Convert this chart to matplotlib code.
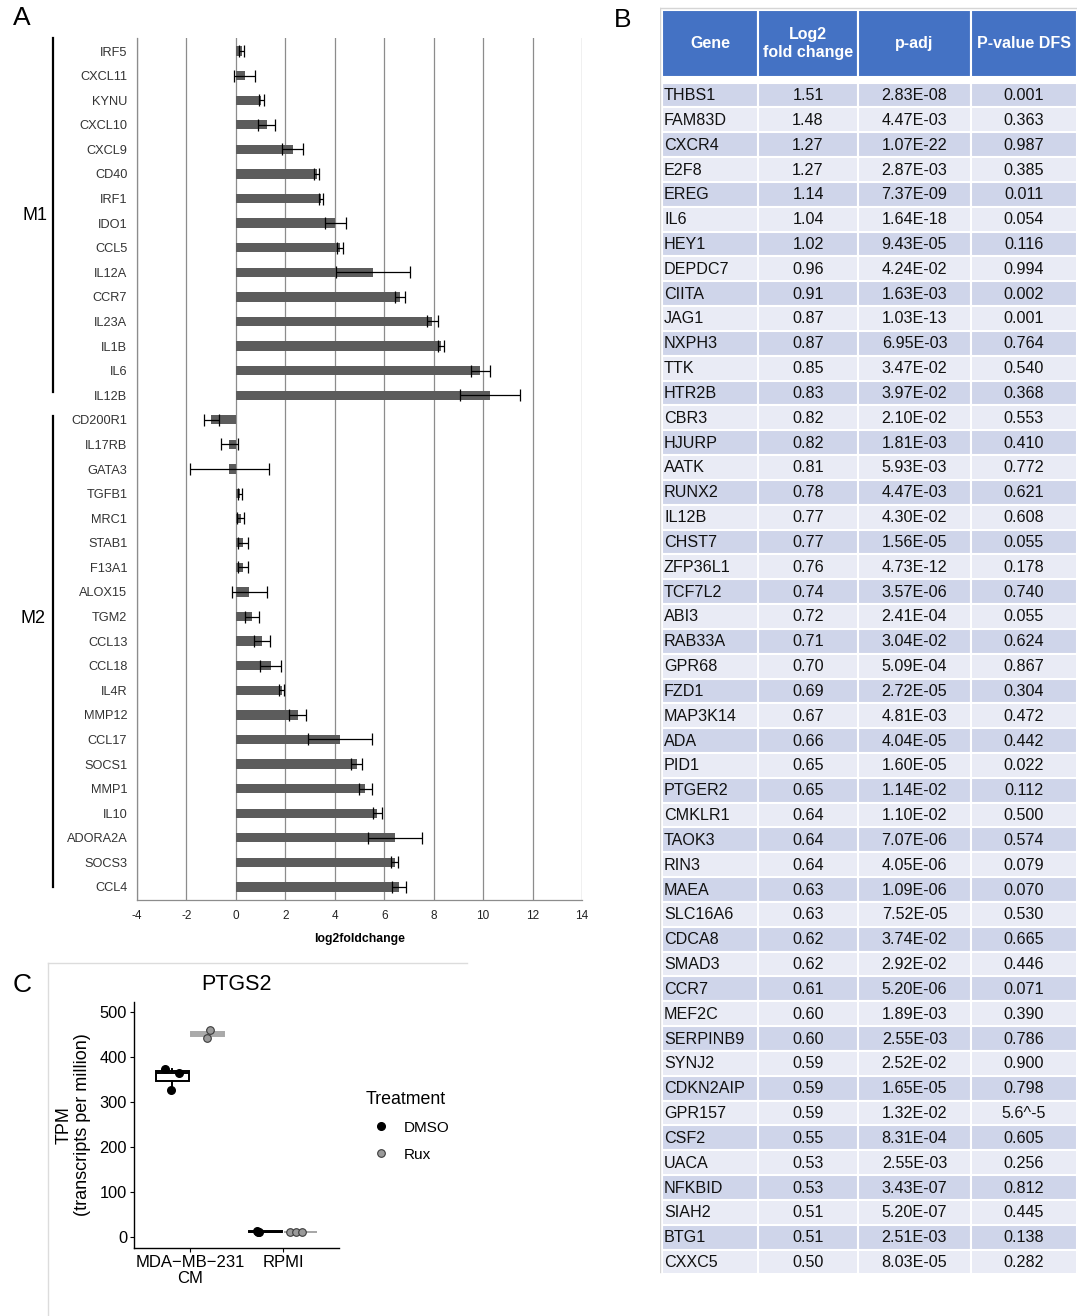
import matplotlib
matplotlib.use('Agg')
import matplotlib.pyplot as plt
import numpy as np
from matplotlib.patches import Rectangle
from matplotlib.lines import Line2D

plt.rcParams['font.family'] = ['Liberation Sans', 'DejaVu Sans']

# ---------------- Panel A data ----------------
m1_genes = ['IRF5', 'CXCL11', 'KYNU', 'CXCL10', 'CXCL9', 'CD40', 'IRF1', 'IDO1',
            'CCL5', 'IL12A', 'CCR7', 'IL23A', 'IL1B', 'IL6', 'IL12B']
m1_lfc = [0.23, 0.36, 1.02, 1.24, 2.29, 3.27, 3.43, 4.02, 4.23, 5.55, 6.64, 7.95, 8.30, 9.89, 10.28]
m1_err = [0.10, 0.42, 0.10, 0.33, 0.42, 0.10, 0.08, 0.42, 0.12, 1.50, 0.20, 0.23, 0.12, 0.40, 1.20]

m2_genes = ['CD200R1', 'IL17RB', 'GATA3', 'TGFB1', 'MRC1', 'STAB1', 'F13A1', 'ALOX15',
            'TGM2', 'CCL13', 'CCL18', 'IL4R', 'MMP12', 'CCL17', 'SOCS1', 'MMP1', 'IL10',
            'ADORA2A', 'SOCS3', 'CCL4']
m2_lfc = [-1.00, -0.26, -0.26, 0.17, 0.20, 0.28, 0.28, 0.54, 0.64, 1.05, 1.40, 1.86, 2.50,
          4.20, 4.88, 5.24, 5.72, 6.43, 6.42, 6.60]
m2_err = [0.30, 0.34, 1.58, 0.09, 0.14, 0.20, 0.20, 0.71, 0.29, 0.31, 0.42, 0.10, 0.35,
          1.30, 0.23, 0.25, 0.18, 1.09, 0.15, 0.30]

xticks_a = [-4, -2, 0, 2, 4, 6, 8, 10, 12, 14]

# ---------------- Panel B data ----------------
tbl_header = ['Gene', 'Log2\nfold change', 'p-adj', 'P-value DFS']
tbl_gene = ['THBS1', 'FAM83D', 'CXCR4', 'E2F8', 'EREG', 'IL6', 'HEY1', 'DEPDC7', 'CIITA',
            'JAG1', 'NXPH3', 'TTK', 'HTR2B', 'CBR3', 'HJURP', 'AATK', 'RUNX2', 'IL12B',
            'CHST7', 'ZFP36L1', 'TCF7L2', 'ABI3', 'RAB33A', 'GPR68', 'FZD1', 'MAP3K14',
            'ADA', 'PID1', 'PTGER2', 'CMKLR1', 'TAOK3', 'RIN3', 'MAEA', 'SLC16A6', 'CDCA8',
            'SMAD3', 'CCR7', 'MEF2C', 'SERPINB9', 'SYNJ2', 'CDKN2AIP', 'GPR157', 'CSF2',
            'UACA', 'NFKBID', 'SIAH2', 'BTG1', 'CXXC5']
tbl_lfc = ['1.51', '1.48', '1.27', '1.27', '1.14', '1.04', '1.02', '0.96', '0.91', '0.87',
           '0.87', '0.85', '0.83', '0.82', '0.82', '0.81', '0.78', '0.77', '0.77', '0.76',
           '0.74', '0.72', '0.71', '0.70', '0.69', '0.67', '0.66', '0.65', '0.65', '0.64',
           '0.64', '0.64', '0.63', '0.63', '0.62', '0.62', '0.61', '0.60', '0.60', '0.59',
           '0.59', '0.59', '0.55', '0.53', '0.53', '0.51', '0.51', '0.50']
tbl_padj = ['2.83E-08', '4.47E-03', '1.07E-22', '2.87E-03', '7.37E-09', '1.64E-18',
            '9.43E-05', '4.24E-02', '1.63E-03', '1.03E-13', '6.95E-03', '3.47E-02',
            '3.97E-02', '2.10E-02', '1.81E-03', '5.93E-03', '4.47E-03', '4.30E-02',
            '1.56E-05', '4.73E-12', '3.57E-06', '2.41E-04', '3.04E-02', '5.09E-04',
            '2.72E-05', '4.81E-03', '4.04E-05', '1.60E-05', '1.14E-02', '1.10E-02',
            '7.07E-06', '4.05E-06', '1.09E-06', '7.52E-05', '3.74E-02', '2.92E-02',
            '5.20E-06', '1.89E-03', '2.55E-03', '2.52E-02', '1.65E-05', '1.32E-02',
            '8.31E-04', '2.55E-03', '3.43E-07', '5.20E-07', '2.51E-03', '8.03E-05']
tbl_dfs = ['0.001', '0.363', '0.987', '0.385', '0.011', '0.054', '0.116', '0.994', '0.002',
           '0.001', '0.764', '0.540', '0.368', '0.553', '0.410', '0.772', '0.621', '0.608',
           '0.055', '0.178', '0.740', '0.055', '0.624', '0.867', '0.304', '0.472', '0.442',
           '0.022', '0.112', '0.500', '0.574', '0.079', '0.070', '0.530', '0.665', '0.446',
           '0.071', '0.390', '0.786', '0.900', '0.798', '5.6^-5', '0.605', '0.256', '0.812',
           '0.445', '0.138', '0.282']

# ---------------- Panel C data ----------------
c_groups = ['MDA\u2212MB\u2212231\nCM', 'RPMI']
c_treat = ['DMSO', 'Rux']
tpm_dmso_mda = [374, 364, 327]
tpm_rux_mda = [460, 441]
tpm_dmso_rpmi = [13, 12, 12]
tpm_rux_rpmi = [11, 11, 11]
jit_dmso_mda = [-0.08, 0.075, -0.02]
jit_rux_mda = [0.025, 0.0]
jit_dmso_rpmi = [-0.09, -0.08, -0.07]
jit_rux_rpmi = [-0.11, -0.045, 0.02]

# ---------------- Figure ----------------
W, H = 1077, 1316
fig = plt.figure(figsize=(W / 100, H / 100), dpi=100)


def px_axes(l, t, r, b):
    return fig.add_axes([l / W, 1 - b / H, (r - l) / W, (b - t) / H])


# ======== Panel A ========
axA = px_axes(137, 38, 582, 900)
genes = m1_genes + m2_genes
lfc = np.array(m1_lfc + m2_lfc)
err = np.array(m1_err + m2_err)
ypos = np.arange(len(genes))
axA.barh(ypos, lfc, height=0.38, color='#5c5c5c', zorder=3)
axA.errorbar(lfc, ypos, xerr=err, fmt='none', ecolor='black', elinewidth=0.9,
             capsize=4, capthick=0.9, zorder=4)
axA.set_xlim(-4, 14)
axA.set_ylim(len(genes) - 1 + 0.53, -0.53)
axA.set_xticks(xticks_a)
axA.set_xticklabels([str(t) for t in xticks_a], fontsize=8.5, color='#222222')
axA.set_yticks(ypos)
axA.set_yticklabels(genes, fontsize=9.2, color='#333333')
axA.tick_params(axis='both', length=0)
axA.tick_params(axis='y', pad=7)
axA.tick_params(axis='x', pad=7)
axA.xaxis.grid(True, color='#8c8c8c', lw=0.9, zorder=0)
axA.set_axisbelow(True)
for s in ['top', 'right']:
    axA.spines[s].set_visible(False)
for s in ['left', 'bottom']:
    axA.spines[s].set_color('#8c8c8c')
    axA.spines[s].set_linewidth(0.9)
axA.set_xlabel('log2foldchange', fontsize=8.8, fontweight='bold', labelpad=8)

tr = axA.get_yaxis_transform()
bx = (53 - 137) / 445
n1 = len(m1_genes)
axA.plot([bx, bx], [-0.53, n1 - 1 - 0.13], transform=tr, color='black', lw=1.6, clip_on=False)
axA.plot([bx, bx], [n1 - 0.16, len(genes) - 1], transform=tr, color='black', lw=1.6, clip_on=False)
axA.text((35 - 137) / 445, (n1 - 1) / 2 - 0.33, 'M1', transform=tr, fontsize=13,
         ha='center', va='center')
axA.text((33 - 137) / 445, 23.1, 'M2', transform=tr, fontsize=13, ha='center', va='center')

# ======== Panel B ========
axB = px_axes(660, 0, 1077, 1316)
row_h = 24.83
top0 = 82.6
axB.set_ylim((H - top0) / row_h, -top0 / row_h)
axB.set_xlim(-2, 415)
axB.axis('off')
col_edges = [0, 96, 196, 309, 415]
hdr_top = (10.3 - top0) / row_h
hdr_bot = (76.5 - top0) / row_h
for j in range(4):
    x0, x1 = col_edges[j], col_edges[j + 1]
    axB.add_patch(Rectangle((x0, hdr_top), x1 - x0, hdr_bot - hdr_top, facecolor='#4472C4',
                            edgecolor='white', lw=1.5))
    axB.text((x0 + x1) / 2, (hdr_top + hdr_bot) / 2, tbl_header[j], color='white',
             fontsize=11.5, fontweight='bold', ha='center', va='center', linespacing=1.3)
cols = [tbl_gene, tbl_lfc, tbl_padj, tbl_dfs]
for i in range(len(tbl_gene)):
    fc = '#CFD5EA' if i % 2 == 0 else '#E9EBF5'
    for j in range(4):
        x0, x1 = col_edges[j], col_edges[j + 1]
        axB.add_patch(Rectangle((x0, i), x1 - x0, 1, facecolor=fc, edgecolor='white', lw=1.5))
        if j == 0:
            axB.text(x0 + 2, i + 0.52, cols[j][i], fontsize=11.6, ha='left', va='center',
                     color='#111111')
        else:
            axB.text((x0 + x1) / 2, i + 0.52, cols[j][i], fontsize=11.6, ha='center',
                     va='center', color='#111111')
ytop_border = (8 - top0) / row_h
axB.plot([-2, -2], [ytop_border, len(tbl_gene) - 0.1], color='#d5d5d5', lw=1)
axB.plot([-2, 415], [ytop_border, ytop_border], color='#d5d5d5', lw=1)

# ======== Panel C ========
axC = px_axes(134, 1002, 339, 1248)
off = 0.1875
pos = [1 - off, 1 + off, 2 - off, 2 + off]
datas = [tpm_dmso_mda, tpm_rux_mda, tpm_dmso_rpmi, tpm_rux_rpmi]
jits = [jit_dmso_mda, jit_rux_mda, jit_dmso_rpmi, jit_rux_rpmi]
box_cols = ['black', '#a8a8a8', 'black', '#a8a8a8']
for k in range(4):
    bc = box_cols[k]
    axC.boxplot([datas[k]], positions=[pos[k]], widths=0.35, patch_artist=True,
                showfliers=False, showcaps=False,
                boxprops=dict(facecolor='white', edgecolor=bc, linewidth=1.4),
                medianprops=dict(color=bc, linewidth=1.4),
                whiskerprops=dict(color=bc, linewidth=1.4))
for k in range(4):
    xs = pos[k] + np.array(jits[k])
    if k % 2 == 0:
        axC.scatter(xs, datas[k], s=30, color='black', zorder=5)
    else:
        axC.scatter(xs, datas[k], s=30, facecolor='#9a9a9a', edgecolor='#3a3a3a',
                    linewidth=0.8, zorder=5)
axC.set_xlim(0.4, 2.6)
axC.set_ylim(-24.4, 522)
axC.set_xticks([1, 2])
axC.set_xticklabels(c_groups, fontsize=12, linespacing=1.1)
axC.set_yticks([0, 100, 200, 300, 400, 500])
axC.set_yticklabels(['0', '100', '200', '300', '400', '500'], fontsize=11.8)
axC.tick_params(length=3, width=0.8, color='black', pad=2)
for s in ['top', 'right']:
    axC.spines[s].set_visible(False)
for s in ['left', 'bottom']:
    axC.spines[s].set_linewidth(1.0)
axC.set_ylabel('TPM\n(transcripts per million)', fontsize=13, labelpad=6, linespacing=1.15)
axC.set_title('PTGS2', fontsize=15.5, pad=9)

handles = [Line2D([], [], marker='o', linestyle='none', markersize=5.5, color='black'),
           Line2D([], [], marker='o', linestyle='none', markersize=5.5,
                  markerfacecolor='#9a9a9a', markeredgecolor='#3a3a3a', markeredgewidth=0.8)]
leg = fig.legend(handles, c_treat, title='Treatment', loc='upper left',
                 bbox_to_anchor=(352 / W, 1 - 1077 / H), frameon=False, fontsize=11,
                 title_fontsize=12.8, handletextpad=0.5, labelspacing=0.85, alignment='left')

# panel C frame
fig.add_artist(Line2D([48 / W, 467 / W], [1 - 963 / H, 1 - 963 / H], color='#dcdcdc', lw=1))
fig.add_artist(Line2D([48 / W, 48 / W], [1 - 963 / H, 0], color='#dcdcdc', lw=1))

# panel labels
fig.text(22 / W, 1 - 18 / H, 'A', fontsize=19, ha='center', va='center')
fig.text(623 / W, 1 - 20 / H, 'B', fontsize=19, ha='center', va='center')
fig.text(22 / W, 1 - 985 / H, 'C', fontsize=19, ha='center', va='center')

fig.savefig('out.png', dpi=100)
